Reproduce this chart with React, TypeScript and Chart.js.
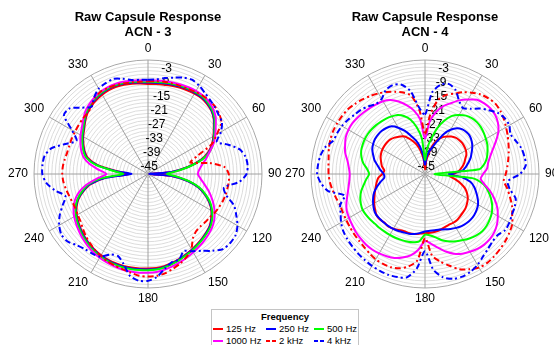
import React, { useEffect, useRef } from 'react';
import { Chart, registerables } from 'chart.js';

Chart.register(...registerables);

const FONT = '"Liberation Sans", Arial, Helvetica, sans-serif';

// Categories: angle in degrees (clockwise from top)
const ANGLES = [
  0, 5, 10, 15, 20, 25, 30, 35, 40, 45, 50, 55,
  60, 65, 70, 75, 80, 85, 90, 95, 100, 105, 110, 115,
  120, 125, 130, 135, 140, 145, 150, 155, 160, 165, 170, 175,
  180, 185, 190, 195, 200, 205, 210, 215, 220, 225, 230, 235,
  240, 245, 250, 255, 260, 265, 270, 275, 280, 285, 290, 295,
  300, 305, 310, 315, 320, 325, 330, 335, 340, 345, 350, 355,
];
const ANGLE_TICKS = [0, 30, 60, 90, 120, 150, 180, 210, 240, 270, 300, 330];
const R_TICKS = [-45, -39, -33, -27, -21, -15, -9, -3];
const R_GRID = [
  -48, -46.5, -45, -43.5, -42, -40.5, -39, -37.5, -36, -34.5, -33, -31.5,
  -30, -28.5, -27, -25.5, -24, -22.5, -21, -19.5, -18, -16.5, -15, -13.5,
  -12, -10.5, -9, -7.5, -6, -4.5, -3, -1.5, 0,
];
const R_MIN = -48;
const R_MAX = 0;

const SERIES_NAMES = ['125 Hz', '250 Hz', '500 Hz', '1000 Hz', '2 kHz', '4 kHz'];
const SERIES_COLORS = ['#ff0000', '#0000ff', '#00ff00', '#ff00ff', '#ff0000', '#0000ff'];
const SERIES_DASHED = [false, false, false, false, true, true];

// ACN - 3 (dB)
const ACN3_125 = [
  -10.1, -10, -9.8, -9.5, -9.3, -9.1, -8.9, -8.9, -9.4, -10.3, -11.9, -14.2,
  -16.2, -18.3, -21, -25, -31, -38, -47.5, -38, -31, -26, -22.5, -19.5,
  -17.2, -15.5, -14.1, -13.3, -12.6, -11.9, -11.2, -10.6, -9.9, -9.2, -8.6, -8.3,
  -8.2, -8.1, -8, -7.9, -8, -8.2, -8.5, -9, -9.6, -10.4, -11.3, -12.3,
  -13.4, -14.8, -16.8, -19.8, -23.5, -30, -40, -35, -26.5, -21.8, -19.6, -18,
  -16.5, -15.2, -13.5, -11.9, -10.8, -10, -9.4, -9, -8.9, -9.1, -9.4, -9.8,
];
const ACN3_250 = [
  -9.5, -9.4, -9.2, -9, -8.8, -8.6, -8.5, -8.5, -9.1, -10.1, -11.7, -14,
  -16, -18, -20.6, -24.6, -30.8, -38, -47.5, -37.5, -31, -25.8, -22.3, -19.3,
  -17, -15.3, -13.9, -13.1, -12.4, -11.7, -11, -10.4, -9.7, -9, -8.3, -7.9,
  -7.8, -7.7, -7.6, -7.6, -7.7, -7.9, -8.2, -8.7, -9.4, -10.2, -11.1, -12,
  -13.1, -14.5, -16.5, -19.5, -23, -30, -41, -34.5, -26, -21.3, -19.3, -17.7,
  -16.2, -14.9, -13.2, -11.5, -10.4, -9.5, -8.9, -8.5, -8.4, -8.6, -8.9, -9.3,
];
const ACN3_500 = [
  -9.2, -9.1, -8.9, -8.7, -8.5, -8.3, -8.2, -8.2, -8.8, -9.8, -11.4, -13.8,
  -15.8, -17.8, -20.3, -24.3, -30.5, -36.5, -40, -36, -30.5, -25.5, -22, -19,
  -16.8, -15, -13.6, -12.9, -12.2, -11.5, -10.8, -10.2, -9.4, -8.7, -8, -7.6,
  -7.5, -7.4, -7.3, -7.3, -7.4, -7.6, -7.9, -8.4, -9.1, -9.9, -10.8, -11.8,
  -12.9, -14.3, -16.3, -19.2, -22.5, -28.5, -37.5, -33.5, -25.5, -21, -19, -17.5,
  -16, -14.7, -13, -11.3, -10.1, -9.2, -8.6, -8.2, -8.1, -8.3, -8.6, -9,
];
const ACN3_1000 = [
  -8.6, -8.5, -8.3, -8.1, -7.9, -7.7, -7.6, -7.7, -8.2, -9.2, -10.8, -13.2,
  -15.3, -17.5, -20.3, -22.6, -24.8, -26.3, -27, -25.8, -24, -21.8, -19.6, -17.5,
  -15.6, -14, -12.8, -12, -11.3, -10.6, -9.9, -9.2, -8.5, -7.8, -7.1, -6.6,
  -6.4, -6.3, -6.3, -6.4, -6.6, -6.9, -7.3, -7.8, -8.5, -9.3, -10.2, -11.1,
  -12.1, -13.4, -15.2, -17.8, -21.5, -26.5, -30.5, -27, -22.8, -19.8, -18, -16.6,
  -15.2, -14, -12.4, -10.7, -9.6, -8.7, -8.1, -7.7, -7.6, -7.8, -8.1, -8.4,
];
const ACN3_2K = [
  -9, -8.8, -8.6, -8.5, -8.5, -8.4, -8.1, -7.8, -7.6, -8, -8.8, -10.3,
  -14.5, -18.5, -26, -29.5, -21.5, -15.5, -14, -13.8, -14, -14.2, -14.5, -15,
  -15.5, -16.2, -16.5, -16.8, -16.5, -15, -11.5, -9.5, -8, -6.8, -5.6, -5,
  -4.8, -5, -5.8, -6.5, -7, -7.5, -8.2, -9, -10, -11, -12.2, -13.3,
  -13.8, -14.2, -14, -13.5, -12.8, -12.2, -11.9, -12, -12.4, -12.8, -12.8, -12.6,
  -12.5, -12.3, -12, -11.9, -11, -9, -8, -8, -8.2, -8.5, -8.8, -9,
];
const ACN3_4K = [
  -8.3, -8, -7, -6, -4.8, -4.2, -5, -6.3, -7.3, -8.2, -9.2, -10,
  -12.5, -16, -12, -8, -6.3, -5.9, -6.5, -9.5, -15.5, -14, -9.5, -7,
  -4.5, -3, -2.8, -3.3, -5.8, -8.5, -10.5, -12.2, -9.7, -9.5, -7.5, -4.5,
  -3, -2.9, -4.4, -8.6, -11.2, -10.6, -7.8, -7.1, -6.7, -5.6, -3.8, -3.5,
  -4.8, -7, -9.8, -12, -8.2, -5, -3.5, -3.4, -3.8, -6, -11, -14.8,
  -11, -4.8, -5, -8.5, -11, -8.5, -6.5, -5.8, -5.4, -6.5, -7.8, -8.2,
];

// ACN - 4 (dB)
const ACN4_125 = [
  -46, -42.5, -39.5, -35.5, -32.8, -31, -29.8, -28.7, -28, -27.7, -27.6, -27.8,
  -28.1, -28.8, -30, -31, -32.3, -33.7, -36, -37.5, -35, -32.3, -30, -28.4,
  -27.2, -26.4, -25.7, -25.3, -24.9, -24.4, -24.3, -24.4, -24.1, -23.6, -23.3, -23.2,
  -23.1, -22.8, -22.4, -22.2, -22.4, -22, -21.4, -21, -21.4, -21, -21.3, -22.3,
  -23.3, -24.5, -25.5, -26.5, -27.3, -28.2, -30, -30.8, -29.6, -28.9, -28.1, -27.6,
  -27.3, -27.2, -27.2, -27.4, -28, -28.8, -29.7, -31.3, -33.3, -35.5, -38.5, -42,
];
const ACN4_250 = [
  -44, -41, -38.5, -36.5, -33.5, -29.5, -26.5, -24.5, -23.5, -23.2, -23.3, -24,
  -25, -26.3, -27.5, -29, -30.5, -32.2, -38, -32.3, -28.5, -26.5, -25, -23.5,
  -22.2, -21.5, -21, -20.8, -20.9, -21.2, -21.8, -22.5, -23.2, -23.8, -24, -24,
  -23.8, -23, -22.4, -22, -21.8, -21.5, -21.3, -21.2, -21.2, -21.2, -21.2, -21.8,
  -22.8, -23.9, -25.2, -27, -29, -30.8, -30.6, -29.2, -27.8, -26, -24.8, -23.5,
  -22.8, -22.3, -22.2, -22.3, -22.7, -23.5, -25.5, -28, -31, -33.5, -36.5, -40.5,
];
const ACN4_500 = [
  -42, -37, -33, -28, -24, -21, -19.3, -18, -17.3, -17.1, -17.3, -17.8,
  -18.4, -19, -20, -21, -22.5, -25, -44, -28, -23, -20.5, -18.5, -16.8,
  -15.5, -14.7, -14.1, -13.9, -14.3, -15, -15.9, -16.8, -17.8, -19, -20.8, -22,
  -22.5, -19.5, -18.8, -18.6, -18.5, -18.4, -18.4, -18.4, -18.3, -18.3, -18, -17.8,
  -17.7, -18.2, -19, -20.2, -21.8, -23.2, -24.5, -23.5, -21.6, -20.3, -19.4, -19,
  -18.7, -18.6, -18.7, -18.9, -19.2, -19.5, -20, -20.6, -22, -24.2, -28, -33,
];
const ACN4_1000 = [
  -33, -26, -21.5, -18.5, -16.3, -13.8, -11.8, -9.8, -9.2, -9, -9.4, -10.5,
  -12.3, -15, -17.6, -19.6, -21, -21.8, -23.5, -24.5, -22.5, -19.5, -16.8, -14.4,
  -12.6, -11, -9.9, -9.3, -9.2, -9.5, -10.2, -11, -12.3, -14.2, -16.5, -18.5,
  -19.8, -16, -13.2, -11.6, -10.4, -9.8, -9.4, -9.2, -9.3, -9.6, -10, -10.6,
  -11.1, -11.6, -12.8, -14.2, -15.3, -16, -16.3, -15.8, -14.8, -13.2, -12.2, -11.2,
  -10.8, -10.7, -11, -11.4, -11.8, -12.2, -12.6, -13.6, -15.5, -18, -20.8, -25,
];
const ACN4_2K = [
  -31, -23, -16.3, -13.5, -12, -10, -8.5, -7.1, -6.4, -6.1, -6.6, -7.5,
  -8.6, -9.6, -10.6, -11.5, -12.4, -13.2, -14, -14.7, -12.8, -11, -9, -7.5,
  -5.6, -4.7, -3.9, -3.3, -2.7, -2.3, -2.5, -3.8, -5.3, -8, -10.5, -13.5,
  -21, -11.5, -8.5, -6.9, -6.2, -6.2, -6.5, -7.2, -8, -8.5, -8.9, -9.3,
  -9.6, -9.8, -9.9, -9.2, -8.5, -7.8, -7.4, -7.2, -6.8, -6.1, -5.6, -5.3,
  -5.3, -5.4, -5.6, -6.3, -7, -7.9, -8.8, -9.9, -11.2, -12.5, -14.5, -21,
];
const ACN4_4K = [
  -23, -13.5, -9.8, -8.8, -10.4, -14, -16, -14.5, -12, -10, -8, -7,
  -7, -8.3, -7.3, -6, -5.5, -5.4, -8, -13, -11.8, -8.5, -7.8, -7.6,
  -7, -6.8, -8, -7.8, -6.8, -5.5, -3.8, -2.6, -2, -2.3, -3.8, -7.5,
  -15.5, -8, -3.8, -3.1, -2.8, -3, -3.3, -3.8, -4.2, -4.8, -5.3, -6,
  -7.2, -8.8, -10, -13, -6.6, -4, -2.6, -2.8, -3.3, -4.5, -6.9, -7.2,
  -7.6, -8.3, -9.2, -9.8, -10.8, -12, -11.5, -9, -8.2, -9, -12.5, -20,
];

const ACN3_SERIES = [ACN3_125, ACN3_250, ACN3_500, ACN3_1000, ACN3_2K, ACN3_4K];
const ACN4_SERIES = [ACN4_125, ACN4_250, ACN4_500, ACN4_1000, ACN4_2K, ACN4_4K];

const DASH_PATTERN = [6, 3, 2, 3];

const polarTextPlugin = {
  id: 'polarText',
  beforeDatasetsDraw(chart: any) {
    const s = chart.scales.r;
    const ctx = chart.ctx;
    ctx.save();
    ctx.fillStyle = '#000';
    ctx.font = `12px ${FONT}`;
    ctx.textAlign = 'center';
    ctx.textBaseline = 'middle';
    const tickIndex = ANGLES.indexOf(10);
    R_TICKS.forEach((v) => {
      const p = s.getPointPositionForValue(tickIndex, v);
      ctx.fillText(String(v), p.x, p.y);
    });
    const halfH = 5;
    ANGLE_TICKS.forEach((a) => {
      const idx = ANGLES.indexOf(a);
      const text = String(a);
      const w = ctx.measureText(text).width;
      const p = s.getPointPosition(idx, s.drawingArea + 6);
      const dx = p.x - s.xCenter;
      const dy = p.y - s.yCenter;
      const sx = Math.abs(dx) < 1 ? 0 : Math.sign(dx);
      const sy = Math.abs(dy) < 1 ? 0 : Math.sign(dy);
      ctx.fillText(text, p.x + (sx * w) / 2, p.y + sy * halfH);
    });
    ctx.restore();
  },
};

function PolarChart({ subtitle, series, width }: { subtitle: string; series: number[][]; width: number }) {
  const ref = useRef<HTMLCanvasElement | null>(null);
  useEffect(() => {
    if (!ref.current) return;
    const chart = new Chart(ref.current, {
      type: 'radar',
      data: {
        labels: ANGLES.map(String),
        datasets: series.map((d, i) => ({
          label: SERIES_NAMES[i],
          data: d,
          borderColor: SERIES_COLORS[i],
          backgroundColor: SERIES_COLORS[i],
          borderWidth: 2,
          borderDash: SERIES_DASHED[i] ? DASH_PATTERN : [],
          pointRadius: 0,
          pointHoverRadius: 0,
          fill: false,
          tension: 0.25,
          order: series.length - i,
        })),
      },
      options: {
        responsive: false,
        animation: false,
        events: [],
        layout: { padding: { left: 33, right: width - 263, top: 0, bottom: 56 } },
        plugins: {
          legend: { display: false },
          tooltip: { enabled: false },
          title: {
            display: true,
            text: ['Raw Capsule Response', subtitle],
            color: '#000',
            font: { family: FONT, size: 13, weight: 'bold', lineHeight: 1.154 },
            padding: { top: 10, bottom: 19 },
          },
        },
        scales: {
          r: {
            min: R_MIN,
            max: R_MAX,
            startAngle: 0,
            angleLines: {
              display: true,
              color: '#a0a0a0',
              lineWidth: (c: any) => (ANGLE_TICKS.includes(ANGLES[c.index]) ? 1 : 0),
            },
            grid: {
              circular: true,
              color: (c: any) => (c.tick && c.tick.value === R_MAX ? '#a8a8a8' : '#dcdcdc'),
              lineWidth: 1,
            },
            ticks: { display: false },
            pointLabels: { display: false },
            afterBuildTicks: (scale: any) => {
              scale.ticks = R_GRID.map((v) => ({ value: v }));
            },
          },
        },
      },
      plugins: [polarTextPlugin],
    } as any);
    return () => chart.destroy();
  }, []);
  return <canvas ref={ref} width={width} height={345} style={{ display: 'block', width, height: 345 }} />;
}

function Legend() {
  const colX = [212, 265, 313];
  const rowY = [328, 340];
  return (
    <div
      style={{
        position: 'absolute',
        left: 211,
        top: 309,
        width: 148,
        height: 42,
        border: '1px solid #c4c4c4',
        background: '#fff',
        boxSizing: 'border-box',
        fontFamily: FONT,
        fontSize: 9.5,
        color: '#000',
      }}
    >
      <div
        style={{
          position: 'absolute',
          left: 0,
          right: 0,
          top: 0,
          textAlign: 'center',
          fontWeight: 'bold',
          lineHeight: '13px',
        }}
      >
        Frequency
      </div>
      {SERIES_NAMES.map((name, i) => {
        const x = colX[i % 3] - 211;
        const y = rowY[Math.floor(i / 3)] - 309;
        const color = SERIES_COLORS[i];
        const sample = SERIES_DASHED[i]
          ? `repeating-linear-gradient(90deg, ${color} 0px, ${color} 4px, transparent 4px, transparent 6px)`
          : color;
        return (
          <React.Fragment key={name}>
            <div
              style={{
                position: 'absolute',
                left: x,
                top: y - 1,
                width: 10,
                height: 2,
                background: sample,
              }}
            />
            <div
              style={{
                position: 'absolute',
                left: x + 13,
                top: y - 6,
                lineHeight: '12px',
                whiteSpace: 'nowrap',
              }}
            >
              {name}
            </div>
          </React.Fragment>
        );
      })}
    </div>
  );
}

export default function App() {
  return (
    <div style={{ position: 'fixed', left: 0, top: 0, width: 554, height: 345, background: '#fff', overflow: 'hidden' }}>
      <div style={{ position: 'absolute', left: 0, top: 0 }}>
        <PolarChart subtitle="ACN - 3" series={ACN3_SERIES} width={300} />
      </div>
      <div style={{ position: 'absolute', left: 277, top: 0 }}>
        <PolarChart subtitle="ACN - 4" series={ACN4_SERIES} width={277} />
      </div>
      <Legend />
    </div>
  );
}
